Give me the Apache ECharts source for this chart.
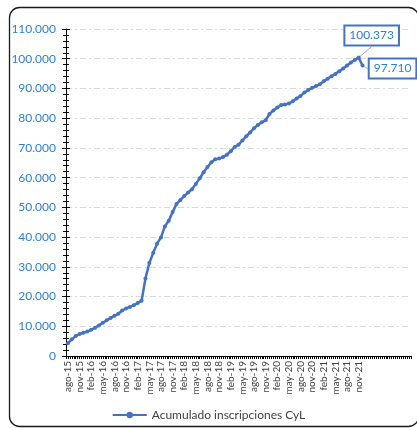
<!DOCTYPE html>
<html>
<head>
<meta charset="utf-8">
<script src="https://cdn.jsdelivr.net/npm/echarts@6/dist/echarts.min.js"></script>
<style>
html,body{margin:0;padding:0;background:#fff;}
#chart{width:417px;height:428px;}
</style>
</head>
<body>
<div id="chart"></div>
<script>
// Month categories (Spanish abbreviations)
const months = [
  'ago-15','sep-15','oct-15','nov-15','dic-15',
  'ene-16','feb-16','mar-16','abr-16','may-16','jun-16','jul-16','ago-16','sep-16','oct-16','nov-16','dic-16',
  'ene-17','feb-17','mar-17','abr-17','may-17','jun-17','jul-17','ago-17','sep-17','oct-17','nov-17','dic-17',
  'ene-18','feb-18','mar-18','abr-18','may-18','jun-18','jul-18','ago-18','sep-18','oct-18','nov-18','dic-18',
  'ene-19','feb-19','mar-19','abr-19','may-19','jun-19','jul-19','ago-19','sep-19','oct-19','nov-19','dic-19',
  'ene-20','feb-20','mar-20','abr-20','may-20','jun-20','jul-20','ago-20','sep-20','oct-20','nov-20','dic-20',
  'ene-21','feb-21','mar-21','abr-21','may-21','jun-21','jul-21','ago-21','sep-21','oct-21','nov-21','dic-21'
];
// Empty trailing categories present on the axis
const blankSlots = 12;

// Accumulated registrations (Acumulado inscripciones CyL)
const acumulado = [
  4300, 5600, 6700, 7400, 7800,
  8200, 8800, 9500, 10300, 11200, 12000, 12800, 13500, 14200, 15300, 16000, 16500,
  17100, 17800, 18600, 26100, 31300, 34700, 37800, 39900, 43600, 45500, 48400, 51100,
  52500, 53800, 55000, 56100, 57900, 59800, 61800, 63600, 65200, 66200, 66400, 66900,
  67700, 68900, 70300, 71100, 72500, 73900, 75200, 76600, 77700, 78600, 79300, 81400,
  82600, 83600, 84400, 84600, 84900, 85700, 86600, 87500, 88600, 89500, 90200, 90800,
  91400, 92400, 93300, 94100, 94900, 95800, 96700, 97700, 98700, 99600, 100373, 97710
];
const seriesName = 'Acumulado inscripciones CyL';
const yMax = 110000;
const yStep = 10000;
const highlighted = [75, 76];

function fmt(v) {
  return String(v).replace(/\B(?=(\d{3})+(?!\d))/g, '.');
}

const axisCats = months.concat(new Array(blankSlots).fill(''));
const halfCats = [];
for (let i = 0; i < axisCats.length * 2; i++) halfCats.push('h' + i);

const boxLabel = {
  show: true,
  position: 'inside',
  formatter: p => fmt(p.value),
  color: '#2e7fd0',
  fontSize: 12,
  fontFamily: 'Lato',
  backgroundColor: '#fff',
  borderColor: '#4472c4',
  borderWidth: 2,
  padding: [3, 4, 3, 4]
};

const seriesData = acumulado.map((v, i) => {
  if (highlighted.indexOf(i) >= 0) {
    return { value: v, label: boxLabel, labelLine: { show: true, lineStyle: { color: '#a6a6a6', width: 1 } } };
  }
  return v;
});

const chart = echarts.init(document.getElementById('chart'), null, { renderer: 'canvas' });
chart.setOption({
  animation: false,
  backgroundColor: '#fff',
  textStyle: { fontFamily: 'Lato' },
  grid: { left: 66, right: 6, top: 29, bottom: 72, containLabel: false },
  legend: {
    data: [seriesName],
    left: 'center',
    top: 404,
    itemWidth: 34,
    itemHeight: 8,
    itemGap: 4,
    textStyle: { fontSize: 12, color: '#404040', fontFamily: 'Lato' }
  },
  xAxis: [{
    type: 'category',
    data: axisCats,
    boundaryGap: true,
    axisLine: { lineStyle: { color: '#000', width: 1 } },
    axisTick: { show: false },
    axisLabel: {
      interval: 2,
      rotate: 90,
      fontSize: 10,
      color: '#404040',
      margin: 5,
      fontFamily: 'Lato'
    },
    splitLine: { show: false }
  }, {
    type: 'category',
    data: halfCats,
    position: 'bottom',
    boundaryGap: true,
    axisLine: { show: false },
    axisTick: { show: true, interval: 0, length: 3, lineStyle: { color: '#000', width: 1 } },
    axisLabel: { show: false },
    splitLine: { show: false }
  }],
  yAxis: [{
    type: 'value',
    min: 0,
    max: yMax,
    interval: yStep,
    axisLine: { show: true, lineStyle: { color: '#000', width: 1 } },
    axisTick: { show: true, length: 4, lineStyle: { color: '#000' } },
    minorTick: { show: true, splitNumber: 5, length: 3, lineStyle: { color: '#000' } },
    axisLabel: { formatter: fmt, color: '#2e7fd0', fontSize: 12, margin: 10, fontFamily: 'Lato' },
    splitLine: { show: true, lineStyle: { color: '#d9d9d9', width: 1, type: [6, 3, 2, 3] } }
  }, {
    type: 'value',
    min: 0,
    max: yMax,
    interval: yStep,
    position: 'left',
    axisLine: { show: false },
    axisTick: { show: true, inside: true, length: 4, lineStyle: { color: '#000' } },
    minorTick: { show: true, splitNumber: 5, length: 3, lineStyle: { color: '#000' } },
    axisLabel: { show: false },
    splitLine: { show: false }
  }],
  series: [{
    name: seriesName,
    type: 'line',
    xAxisIndex: 0,
    yAxisIndex: 0,
    data: seriesData,
    symbol: 'circle',
    symbolSize: 4,
    showAllSymbol: true,
    lineStyle: { color: '#4472c4', width: 2.5 },
    itemStyle: { color: '#4472c4' },
    labelLayout: function (p) {
      if (p.dataIndex === 75) return { dx: 13, dy: -22 };
      if (p.dataIndex === 76) return { dx: 30, dy: 3 };
      return {};
    },
    z: 3
  }],
  graphic: [{
    type: 'rect',
    left: 7,
    top: 5,
    shape: { width: 409, height: 419, r: 10 },
    style: { fill: 'none', stroke: '#1a1a1a', lineWidth: 1.3 },
    silent: true,
    z: 100
  }]
});
</script>
</body>
</html>
